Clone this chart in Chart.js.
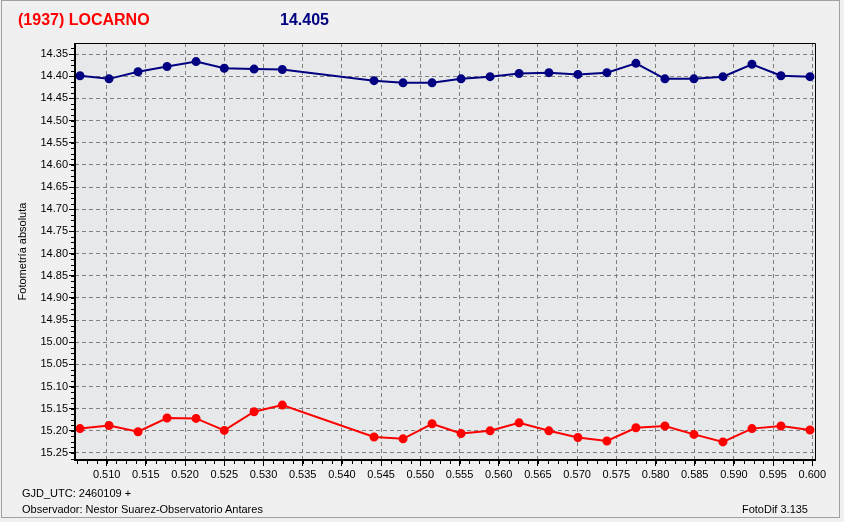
<!DOCTYPE html>
<html>
<head>
<meta charset="utf-8">
<title>(1937) LOCARNO</title>
<script src="https://cdn.jsdelivr.net/npm/chart.js@4.4.0/dist/chart.umd.min.js"></script>
<style>
  body { margin: 0; background: #f0f0f0; font-family: "Liberation Sans", Arial, sans-serif; }
  #wrap { position: relative; width: 844px; height: 522px; overflow: hidden; }
  #frame { position: absolute; left: 1px; top: 0px; width: 837px; height: 516px; border: 1px solid #a0a0a0; }
  #chart { position: absolute; left: 0; top: 0; }
  .txt { position: absolute; white-space: nowrap; }
  #title { left: 18px; top: 12px; font: bold 16px/16px "Liberation Sans", Arial, sans-serif; color: #ff0000; }
  #mean { left: 280px; top: 12px; font: bold 16px/16px "Liberation Sans", Arial, sans-serif; color: #000080; }
  .foot { font-size: 11px; line-height: 11px; color: #000; }
</style>
</head>
<body>
<div id="wrap">
  <div id="frame"></div>
  <canvas id="chart" width="844" height="522"></canvas>
  <div class="txt" id="title">(1937) LOCARNO</div>
  <div class="txt" id="mean">14.405</div>
  <div class="txt foot" style="left:22px; top:488px;">GJD_UTC: 2460109 +</div>
  <div class="txt foot" style="left:22px; top:504px;">Observador: Nestor Suarez-Observatorio Antares</div>
  <div class="txt foot" style="right:36px; top:504px;">FotoDif 3.135</div>
</div>
<script>
// fraccion de dia (GJD - 2460109)
const jd = [0.5066, 0.5103, 0.5140, 0.5177, 0.5214, 0.5250, 0.5288, 0.5324,
            0.5441, 0.5478, 0.5515, 0.5552, 0.5589, 0.5626, 0.5664, 0.5701,
            0.5738, 0.5775, 0.5812, 0.5849, 0.5886, 0.5923, 0.5960, 0.5997];

// asteroide (azul)
const blueMag = [14.399, 14.406, 14.390, 14.378, 14.367, 14.382, 14.384, 14.385,
                 14.410, 14.415, 14.415, 14.406, 14.401, 14.394, 14.392, 14.396,
                 14.392, 14.371, 14.406, 14.406, 14.401, 14.373, 14.399, 14.401];

// estrella de comparacion (rojo)
const redMag = [15.195, 15.188, 15.202, 15.171, 15.172, 15.199, 15.157, 15.142,
                15.214, 15.218, 15.184, 15.206, 15.200, 15.182, 15.200, 15.215,
                15.223, 15.193, 15.189, 15.208, 15.225, 15.195, 15.189, 15.198];

const xTicks = [0.510, 0.515, 0.520, 0.525, 0.530, 0.535, 0.540, 0.545, 0.550, 0.555,
                0.560, 0.565, 0.570, 0.575, 0.580, 0.585, 0.590, 0.595, 0.600];
const yTicks = [14.35, 14.40, 14.45, 14.50, 14.55, 14.60, 14.65, 14.70, 14.75, 14.80,
                14.85, 14.90, 14.95, 15.00, 15.05, 15.10, 15.15, 15.20, 15.25];

const tickFont = { family: "'Liberation Sans', Arial, sans-serif", size: 11 };

// fondo del area y marco
const frame = {
  id: 'frame',
  beforeDraw(chart) {
    const a = chart.chartArea, ctx = chart.ctx;
    ctx.save();
    ctx.fillStyle = '#e6e8ea';
    ctx.fillRect(a.left, a.top, a.right - a.left, a.bottom - a.top);
    ctx.restore();
  },
  afterDraw(chart) {
    const a = chart.chartArea, ctx = chart.ctx;
    ctx.save();
    ctx.strokeStyle = '#000';
    ctx.lineWidth = 1;
    ctx.beginPath();
    ctx.moveTo(a.left, a.top + 0.5); ctx.lineTo(a.right + 0.5, a.top + 0.5);
    ctx.lineTo(a.right + 0.5, a.bottom);
    ctx.stroke();
    ctx.lineWidth = 2;
    ctx.beginPath();
    ctx.moveTo(a.left, a.top); ctx.lineTo(a.left, a.bottom); ctx.lineTo(a.right + 1, a.bottom);
    ctx.stroke();

    // marcas menores
    ctx.lineWidth = 1;
    const xs = chart.scales.x, ys = chart.scales.y;
    const xStep = 0.00125, yStep = 0.0125;
    ctx.beginPath();
    for (let v = Math.ceil(xs.min / xStep) * xStep; v <= xs.max; v += xStep) {
      const p = Math.round(xs.getPixelForValue(v)) + 0.5;
      ctx.moveTo(p, a.bottom); ctx.lineTo(p, a.bottom + 4);
    }
    for (let v = Math.ceil(ys.min / yStep) * yStep; v <= ys.max; v += yStep) {
      const p = Math.round(ys.getPixelForValue(v)) + 0.5;
      ctx.moveTo(a.left, p); ctx.lineTo(a.left - 4, p);
    }
    ctx.stroke();
    ctx.restore();
  }
};

new Chart(document.getElementById('chart'), {
  type: 'line',
  data: {
    datasets: [
      {
        data: jd.map((x, i) => ({ x: x, y: blueMag[i] })),
        borderColor: '#000080',
        backgroundColor: '#000080',
        borderWidth: 2,
        pointRadius: 3.5,
        tension: 0
      },
      {
        data: jd.map((x, i) => ({ x: x, y: redMag[i] })),
        borderColor: '#ff0000',
        backgroundColor: '#ff0000',
        borderWidth: 2,
        pointRadius: 3.5,
        tension: 0
      }
    ]
  },
  options: {
    responsive: false,
    animation: false,
    events: [],
    layout: { padding: { left: 12, top: 43, right: 29, bottom: 42 } },
    plugins: { legend: { display: false }, tooltip: { enabled: false } },
    scales: {
      x: {
        type: 'linear',
        min: 0.50596,
        max: 0.60034,
        afterBuildTicks: s => { s.ticks = xTicks.map(v => ({ value: v })); },
        afterFit: s => { s.height = 20; },
        ticks: { font: tickFont, color: '#000', padding: 2, maxRotation: 0, callback: v => v.toFixed(3) },
        grid: { color: '#808080', lineWidth: 1, tickLength: 6, tickColor: '#000', tickBorderDash: [] },
        border: { display: false, dash: [4, 3] }
      },
      y: {
        reverse: true,
        min: 14.3251,
        max: 15.2658,
        afterBuildTicks: s => { s.ticks = yTicks.map(v => ({ value: v })); },
        afterFit: s => { s.width = 63; },
        ticks: { font: tickFont, color: '#000', padding: 1, callback: v => v.toFixed(2) },
        grid: { color: '#808080', lineWidth: 1, tickLength: 6, tickColor: '#000', tickBorderDash: [] },
        border: { display: false, dash: [4, 3] },
        title: { display: true, text: 'Fotometría absoluta', font: tickFont, color: '#000', padding: { top: 4, bottom: 4 } }
      }
    }
  },
  plugins: [frame]
});
</script>
</body>
</html>
